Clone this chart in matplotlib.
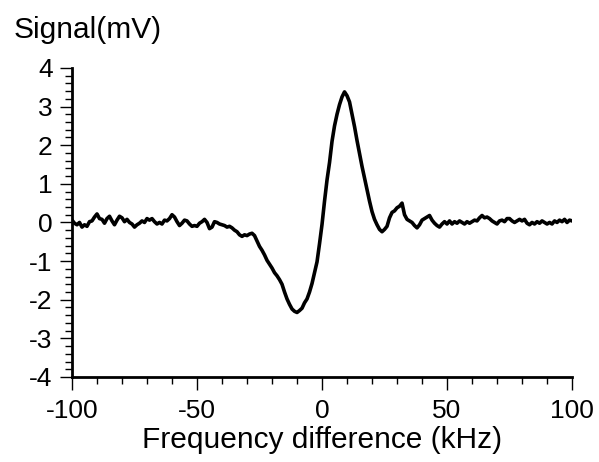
import matplotlib.pyplot as plt
import numpy as np

freq = np.arange(-100, 101, 1)
signal = [
    0.06, -0.02, -0.06, 0.00, -0.12, -0.06, -0.10, 0.02, 0.04, 0.14,      # -100 .. -91
    0.22, 0.10, 0.08, -0.02, 0.10, 0.16, 0.04, -0.06, 0.06, 0.16,         # -90 .. -81
    0.12, 0.02, 0.08, 0.00, -0.04, -0.12, -0.06, -0.02, 0.04, 0.00,       # -80 .. -71
    0.10, 0.06, 0.10, 0.02, -0.04, 0.00, -0.04, 0.06, 0.04, 0.10,         # -70 .. -61
    0.20, 0.14, 0.02, -0.08, -0.02, 0.06, 0.04, -0.04, -0.10, -0.08,      # -60 .. -51
    -0.10, -0.02, 0.02, 0.08, 0.00, -0.16, -0.12, 0.02, 0.00, -0.04,     # -50 .. -41
    -0.06, -0.08, -0.12, -0.10, -0.14, -0.20, -0.24, -0.32, -0.36, -0.32, # -40 .. -31
    -0.34, -0.30, -0.28, -0.34, -0.48, -0.62, -0.72, -0.84, -0.98, -1.08, # -30 .. -21
    -1.18, -1.30, -1.38, -1.48, -1.60, -1.80, -1.98, -2.12, -2.24, -2.30, # -20 .. -11
    -2.33, -2.28, -2.22, -2.08, -1.98, -1.80, -1.58, -1.30, -1.02, -0.55, # -10 .. -1
    -0.05, 0.55, 1.10, 1.55, 2.10, 2.50, 2.80, 3.05, 3.25, 3.38,          # 0 .. 9
    3.28, 3.12, 2.80, 2.48, 2.12, 1.78, 1.45, 1.15, 0.85, 0.55,           # 10 .. 19
    0.28, 0.08, -0.06, -0.18, -0.24, -0.18, -0.10, 0.12, 0.26, 0.30,      # 20 .. 29
    0.38, 0.42, 0.50, 0.20, 0.08, 0.04, 0.00, -0.08, -0.14, -0.06,        # 30 .. 39
    0.06, 0.10, 0.14, 0.18, 0.06, -0.02, -0.08, -0.12, -0.04, 0.02,       # 40 .. 49
    -0.04, 0.04, -0.04, 0.02, -0.02, 0.04, 0.00, -0.04, 0.02, -0.02,      # 50 .. 59
    0.02, 0.06, 0.04, 0.12, 0.18, 0.12, 0.14, 0.10, 0.04, 0.00,           # 60 .. 69
    -0.04, 0.04, 0.06, 0.02, 0.10, 0.10, 0.04, 0.00, 0.04, 0.08,          # 70 .. 79
    0.04, 0.08, -0.02, -0.06, 0.00, -0.04, 0.02, -0.02, 0.04, 0.00,       # 80 .. 89
    -0.04, 0.00, -0.04, 0.04, 0.00, 0.06, 0.02, 0.08, 0.00, 0.06, 0.04,   # 90 .. 100
]

plt.rcParams['font.family'] = ['Liberation Sans', 'DejaVu Sans']
plt.rcParams['axes.unicode_minus'] = False

fig = plt.figure(figsize=(5.99, 4.62), dpi=100)
ax = fig.add_axes([0.1202, 0.184, 0.8348, 0.669])

ax.plot(freq, signal, '-k', lw=2.6, solid_joinstyle='round')

ax.set_xlim(-100, 100)
ax.set_ylim(-4, 4)
ax.set_xticks([-100, -50, 0, 50, 100])
ax.set_xticks(np.arange(-100, 101, 10), minor=True)
ax.set_yticks(np.arange(-4, 5, 1))
ax.set_yticks(np.arange(-4, 4.01, 0.2), minor=True)

for side in ('top', 'right'):
    ax.spines[side].set_visible(False)
for side in ('left', 'bottom'):
    ax.spines[side].set_linewidth(2)

ax.tick_params(which='major', direction='out', length=9, width=1, labelsize=19, pad=5)
ax.tick_params(axis='x', which='major', pad=7)
ax.tick_params(which='minor', direction='out', length=5, width=1)

ax.set_xlabel('Frequency difference (kHz)', fontsize=21.5, labelpad=2)
fig.text(0.022, 0.935, 'Signal(mV)', fontsize=21.5, ha='left', va='center')

fig.savefig('out.png', dpi=100)
